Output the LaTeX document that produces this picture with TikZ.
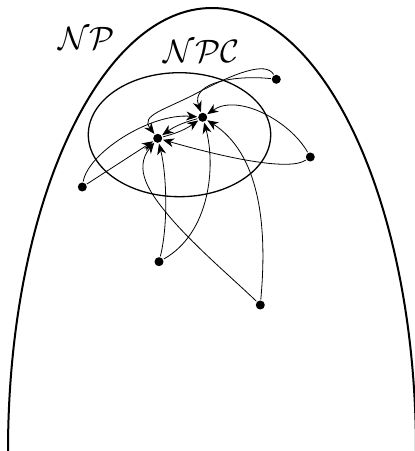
\documentclass[tikz,border=0pt]{standalone}
\usetikzlibrary{arrows.meta}
\begin{document}
\begin{tikzpicture}[x=1pt,y=1pt,
  dot/.style={circle,fill=black,inner sep=0pt,minimum size=9pt,outer sep=1pt},
  red/.style={line width=0.8pt,-{Stealth[length=11pt,width=9pt,inset=3.5pt]}},
  lbl/.style={inner sep=0pt,font=\fontsize{24.88}{30}\selectfont,scale=1.3}]
\useasboundingbox (0,0) rectangle (415,451);
% NP region
\draw[line width=2pt] (8,0) arc[start angle=180,end angle=0,x radius=204,y radius=443];
% NPC ellipse
\draw[line width=1.3pt] (179.5,316.3) ellipse[x radius=91.2,y radius=62];
\node[lbl] (np) at (86.5,413) {$\mathcal{NP}$};
\node[lbl] (npc) at (201.5,399.5) {$\mathcal{NPC}$};
% points
\node[dot] (A) at (157.7,312.7) {};
\node[dot] (B) at (202.7,333.7) {};
\node[dot] (P1) at (276.3,371.7) {};
\node[dot] (P2) at (310.3,294) {};
\node[dot] (P3) at (82.3,264) {};
\node[dot] (P4) at (159,189.3) {};
\node[dot] (P5) at (260.3,146) {};
\coordinate (m1) at (197,358);
\coordinate (m5) at (166.7,237.7);
% reductions
\draw[red] (A) to[bend right=10] (B);
\draw[red] (B) to[bend right=10] (A);
\draw[red] (P3) -- (A);
\draw[red] (P3) .. controls (88,298) and (150,338) .. (B);
\draw[red] (P1) .. controls (240,376) and (190,370) .. (B);
\draw[red] (P1) .. controls (266,390) and (235,378) .. (m1) .. controls (165,341) and (140,336) .. (A);
\draw[red] (P2) .. controls (290,330) and (238,358) .. (B);
\draw[red] (P2) .. controls (290,280) and (230,292) .. (A);
\draw[red] (P4) .. controls (168,225) and (167,275) .. (A);
\draw[red] (P4) .. controls (210,218) and (216,285) .. (B);
\draw[red] (P5) .. controls (230,175) and (191.7,207.3) .. (m5) .. controls (150,258) and (133,282) .. (A);
\draw[red] (P5) .. controls (268,230) and (258,298) .. (B);
\end{tikzpicture}
\end{document}
